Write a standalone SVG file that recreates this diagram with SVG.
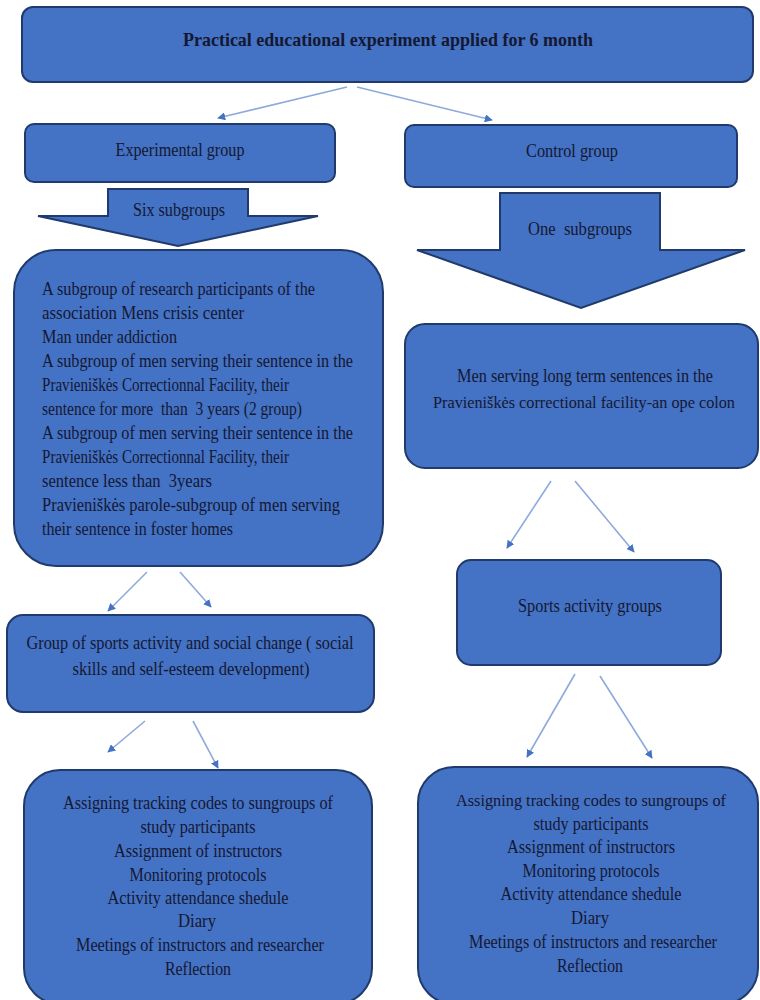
<svg xmlns="http://www.w3.org/2000/svg" width="760" height="1000" viewBox="0 0 760 1000">
<defs>
<style>
.box{fill:#4472C4;stroke:#1F3A6B;stroke-width:2}
.t{font-family:"Liberation Serif","Times New Roman",serif;font-size:19px;fill:#141833}
.s{font-size:17px}
.c{text-anchor:middle}
.b{font-weight:bold}
.con{stroke:#8EA9DB;stroke-width:1.6;fill:none;marker-end:url(#ah)}
</style>
<marker id="ah" viewBox="0 0 10 10" refX="9" refY="5" markerWidth="8" markerHeight="8" markerUnits="userSpaceOnUse" orient="auto">
<path d="M0,0 L10,5 L0,10 z" fill="#4472C4"/>
</marker>
</defs>
<rect width="760" height="1000" fill="#ffffff"/>

<g id="connectors">
<line class="con" x1="347" y1="87" x2="218" y2="118"/>
<line class="con" x1="357" y1="87" x2="492" y2="120"/>
<line class="con" x1="551" y1="481" x2="507" y2="548"/>
<line class="con" x1="575" y1="481" x2="634" y2="552"/>
<line class="con" x1="147" y1="572" x2="108" y2="611"/>
<line class="con" x1="180" y1="572" x2="211" y2="607"/>
<line class="con" x1="145" y1="721" x2="108" y2="752"/>
<line class="con" x1="193" y1="721" x2="218" y2="768"/>
<line class="con" x1="575" y1="674" x2="527" y2="757"/>
<line class="con" x1="600" y1="676" x2="652" y2="758"/>
</g>

<g id="n-title">
<rect class="box" x="22" y="7" width="731" height="75" rx="11"/>
<text class="t c b" x="388" y="46" textLength="410" lengthAdjust="spacingAndGlyphs">Practical educational experiment applied for 6 month</text>
</g>

<g id="n-experimental">
<rect class="box" x="25" y="124" width="310" height="58" rx="9"/>
<text class="t c" x="180" y="156" textLength="129" lengthAdjust="spacingAndGlyphs">Experimental group</text>
</g>

<g id="n-control">
<rect class="box" x="405" y="125" width="332" height="62" rx="9"/>
<text class="t c" x="572" y="157" textLength="92" lengthAdjust="spacingAndGlyphs">Control group</text>
</g>

<g id="n-six">
<path class="box" d="M108,189 L248,189 L248,216 L318,216 L178,246 L38,216 L108,216 Z"/>
<text class="t c" x="179" y="216" textLength="92" lengthAdjust="spacingAndGlyphs">Six subgroups</text>
</g>

<g id="n-one">
<path class="box" d="M500,193 L660,193 L660,250 L745,250 L581,308 L417,250 L500,250 Z"/>
<text class="t c" x="580" y="235" textLength="104" lengthAdjust="spacingAndGlyphs">One&#160; subgroups</text>
</g>

<g id="n-subgroups">
<rect class="box" x="14" y="250" width="369" height="316" rx="42"/>
<g class="t">
<text x="42" y="295" textLength="273" lengthAdjust="spacingAndGlyphs">A subgroup of research participants of the</text>
<text x="42" y="319" textLength="202" lengthAdjust="spacingAndGlyphs">association Mens crisis center</text>
<text x="42" y="343" textLength="135" lengthAdjust="spacingAndGlyphs">Man under addiction</text>
<text x="42" y="367" textLength="311" lengthAdjust="spacingAndGlyphs">A subgroup of men serving their sentence in the</text>
<text x="42" y="391" textLength="247" lengthAdjust="spacingAndGlyphs">Pravieniškės Correctionnal Facility, their</text>
<text x="42" y="415" textLength="260" lengthAdjust="spacingAndGlyphs">sentence for more&#160; than&#160; 3 years (2 group)</text>
<text x="42" y="439" textLength="311" lengthAdjust="spacingAndGlyphs">A subgroup of men serving their sentence in the</text>
<text x="42" y="463" textLength="247" lengthAdjust="spacingAndGlyphs">Pravieniškės Correctionnal Facility, their</text>
<text x="42" y="487" textLength="170" lengthAdjust="spacingAndGlyphs">sentence less than&#160; 3years</text>
<text x="42" y="511" textLength="298" lengthAdjust="spacingAndGlyphs">Pravieniškės parole-subgroup of men serving</text>
<text x="42" y="535" textLength="191" lengthAdjust="spacingAndGlyphs">their sentence in foster homes</text>
</g>
</g>

<g id="n-longterm">
<rect class="box" x="405" y="324" width="353" height="144" rx="20"/>
<text class="t c" x="585" y="382" textLength="256" lengthAdjust="spacingAndGlyphs">Men serving long term sentences in the</text>
<text class="t s c" x="584" y="408" textLength="302" lengthAdjust="spacingAndGlyphs">Pravieniškės correctional facility-an ope colon</text>
</g>

<g id="n-sports">
<rect class="box" x="457" y="560" width="264" height="105" rx="14"/>
<text class="t c" x="590" y="612" textLength="144" lengthAdjust="spacingAndGlyphs">Sports activity groups</text>
</g>

<g id="n-social">
<rect class="box" x="7" y="615" width="367" height="97" rx="16"/>
<text class="t c" x="190" y="649" textLength="327" lengthAdjust="spacingAndGlyphs">Group of sports activity and social change ( social</text>
<text class="t c" x="191" y="675" textLength="237" lengthAdjust="spacingAndGlyphs">skills and self-esteem development)</text>
</g>

<g id="n-tracking-left">
<rect class="box" x="24" y="770" width="348" height="234" rx="36"/>
<g class="t c">
<text x="198" y="809" textLength="270" lengthAdjust="spacingAndGlyphs">Assigning tracking codes to sungroups of</text>
<text x="198" y="833" textLength="115" lengthAdjust="spacingAndGlyphs">study participants</text>
<text x="198" y="857" textLength="168" lengthAdjust="spacingAndGlyphs">Assignment of instructors</text>
<text x="198" y="881" textLength="137" lengthAdjust="spacingAndGlyphs">Monitoring protocols</text>
<text x="198" y="904" textLength="181" lengthAdjust="spacingAndGlyphs">Activity attendance shedule</text>
<text x="197" y="927" textLength="38" lengthAdjust="spacingAndGlyphs">Diary</text>
<text x="200" y="951" textLength="248" lengthAdjust="spacingAndGlyphs">Meetings of instructors and researcher</text>
<text x="198" y="975" textLength="66" lengthAdjust="spacingAndGlyphs">Reflection</text>
</g>
</g>

<g id="n-tracking-right">
<rect class="box" x="418" y="767" width="340" height="237" rx="36"/>
<g class="t c">
<text class="s" x="591" y="806" textLength="270" lengthAdjust="spacingAndGlyphs">Assigning tracking codes to sungroups of</text>
<text x="591" y="830" textLength="115" lengthAdjust="spacingAndGlyphs">study participants</text>
<text x="591" y="853" textLength="168" lengthAdjust="spacingAndGlyphs">Assignment of instructors</text>
<text x="591" y="877" textLength="137" lengthAdjust="spacingAndGlyphs">Monitoring protocols</text>
<text x="591" y="900" textLength="181" lengthAdjust="spacingAndGlyphs">Activity attendance shedule</text>
<text x="590" y="924" textLength="38" lengthAdjust="spacingAndGlyphs">Diary</text>
<text x="593" y="948" textLength="248" lengthAdjust="spacingAndGlyphs">Meetings of instructors and researcher</text>
<text x="590" y="972" textLength="66" lengthAdjust="spacingAndGlyphs">Reflection</text>
</g>
</g>
</svg>
